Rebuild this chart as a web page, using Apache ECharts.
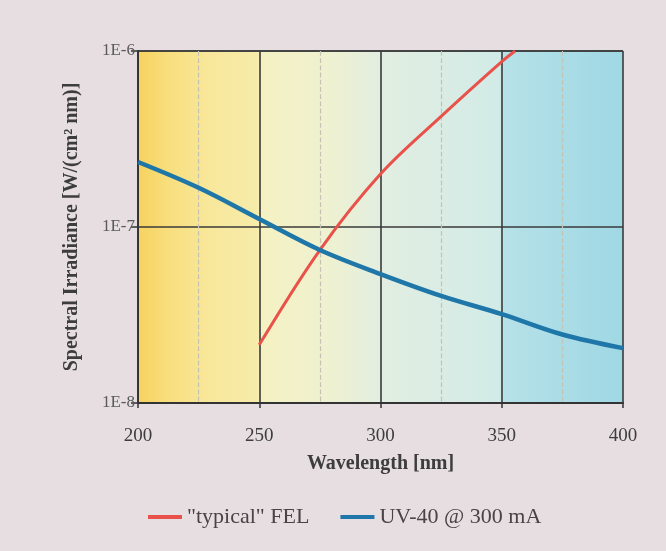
<!DOCTYPE html>
<html><head><meta charset="utf-8">
<script src="https://cdn.jsdelivr.net/npm/echarts@6/dist/echarts.min.js"></script>
<style>html,body{margin:0;padding:0;background:#e6dee1;}#c{width:666px;height:551px;}</style>
</head><body><div id="c"></div>
<script>
const xTicks = [200, 250, 300, 350, 400];
const yTickLabels = {'-8': '1E-8', '-7': '1E-7', '-6': '1E-6'};
const felWavelength = [250, 275, 300, 325, 350, 355.5];
const felIrradiance = [2.14e-8, 7.4e-8, 2.0e-7, 4.25e-7, 8.7e-7, 1.0e-6];
const uvWavelength = [200, 225, 250, 275, 300, 325, 350, 375, 400];
const uvIrradiance = [2.34e-7, 1.67e-7, 1.11e-7, 7.4e-8, 5.4e-8, 4.06e-8, 3.2e-8, 2.45e-8, 2.05e-8];

const chart = echarts.init(document.getElementById('c'));
const serif = 'Liberation Serif';
const zip = (a, b) => a.map((v, i) => [v, b[i]]);
chart.setOption({
  backgroundColor: '#e6dee1',
  animation: false,
  grid: {
    left: 138, right: 43, top: 51, bottom: 148,
    show: true,
    borderWidth: 0,
    backgroundColor: new echarts.graphic.LinearGradient(0, 0, 1, 0, [
      {offset: 0, color: '#f7d25e'},
      {offset: 0.06, color: '#f8de7c'},
      {offset: 0.15, color: '#f8e89c'},
      {offset: 0.245, color: '#f6eba9'},
      {offset: 0.255, color: '#f5f1c2'},
      {offset: 0.4, color: '#eef1d1'},
      {offset: 0.5, color: '#e2eee1'},
      {offset: 0.745, color: '#d2ebe7'},
      {offset: 0.755, color: '#b6e1e8'},
      {offset: 1, color: '#9fd8e4'}
    ])
  },
  legend: {
    top: 501, left: 143,
    itemWidth: 34, itemHeight: 4, itemGap: 31,
    icon: 'rect',
    textStyle: {fontFamily: serif, fontSize: 22, color: '#4a4244'},
    data: ['"typical" FEL', 'UV-40 @ 300 mA']
  },
  xAxis: {
    type: 'value', min: 200, max: 400, interval: 50,
    name: 'Wavelength [nm]', nameLocation: 'middle', nameGap: 51,
    nameTextStyle: {fontFamily: serif, fontSize: 20, fontWeight: 'bold', color: '#3d3d3d'},
    axisLine: {show: true, lineStyle: {color: '#333', width: 1.8}},
    axisTick: {show: true, inside: false, length: 5, lineStyle: {color: '#333', width: 1.5}},
    axisLabel: {fontFamily: serif, fontSize: 19, color: '#3d3d3d', margin: 24,
      formatter: v => xTicks.includes(v) ? String(v) : ''},
    splitLine: {show: true, lineStyle: {color: '#3a3a3a', width: 1.6}},
    minorTick: {show: false, splitNumber: 2},
    minorSplitLine: {show: true, lineStyle: {color: '#c4c2b4', type: 'dashed', width: 1.2}}
  },
  yAxis: {
    type: 'log', logBase: 10, min: 1e-8, max: 1e-6,
    name: 'Spectral Irradiance [W/(cm² nm)]', nameLocation: 'middle', nameGap: 56,
    nameTextStyle: {fontFamily: serif, fontSize: 20, fontWeight: 'bold', color: '#3d3d3d'},
    axisLine: {show: true, lineStyle: {color: '#333', width: 1.8}},
    axisTick: {show: true, length: 7, lineStyle: {color: '#333', width: 1.5}},
    axisLabel: {fontFamily: serif, fontSize: 17, color: '#5a5a5a', margin: 3,
      formatter: v => yTickLabels[String(Math.round(Math.log10(v)))] || ''},
    splitLine: {show: true, lineStyle: {color: '#3a3a3a', width: 1.6}}
  },
  series: [
    {name: '"typical" FEL', type: 'line', smooth: 0.35, showSymbol: false,
      data: zip(felWavelength, felIrradiance),
      lineStyle: {color: '#e8524a', width: 3}, itemStyle: {color: '#e8524a'}},
    {name: 'UV-40 @ 300 mA', type: 'line', smooth: 0.35, showSymbol: false,
      data: zip(uvWavelength, uvIrradiance),
      lineStyle: {color: '#1f76a8', width: 4.5}, itemStyle: {color: '#1f76a8'}}
  ]
});
</script></body></html>
